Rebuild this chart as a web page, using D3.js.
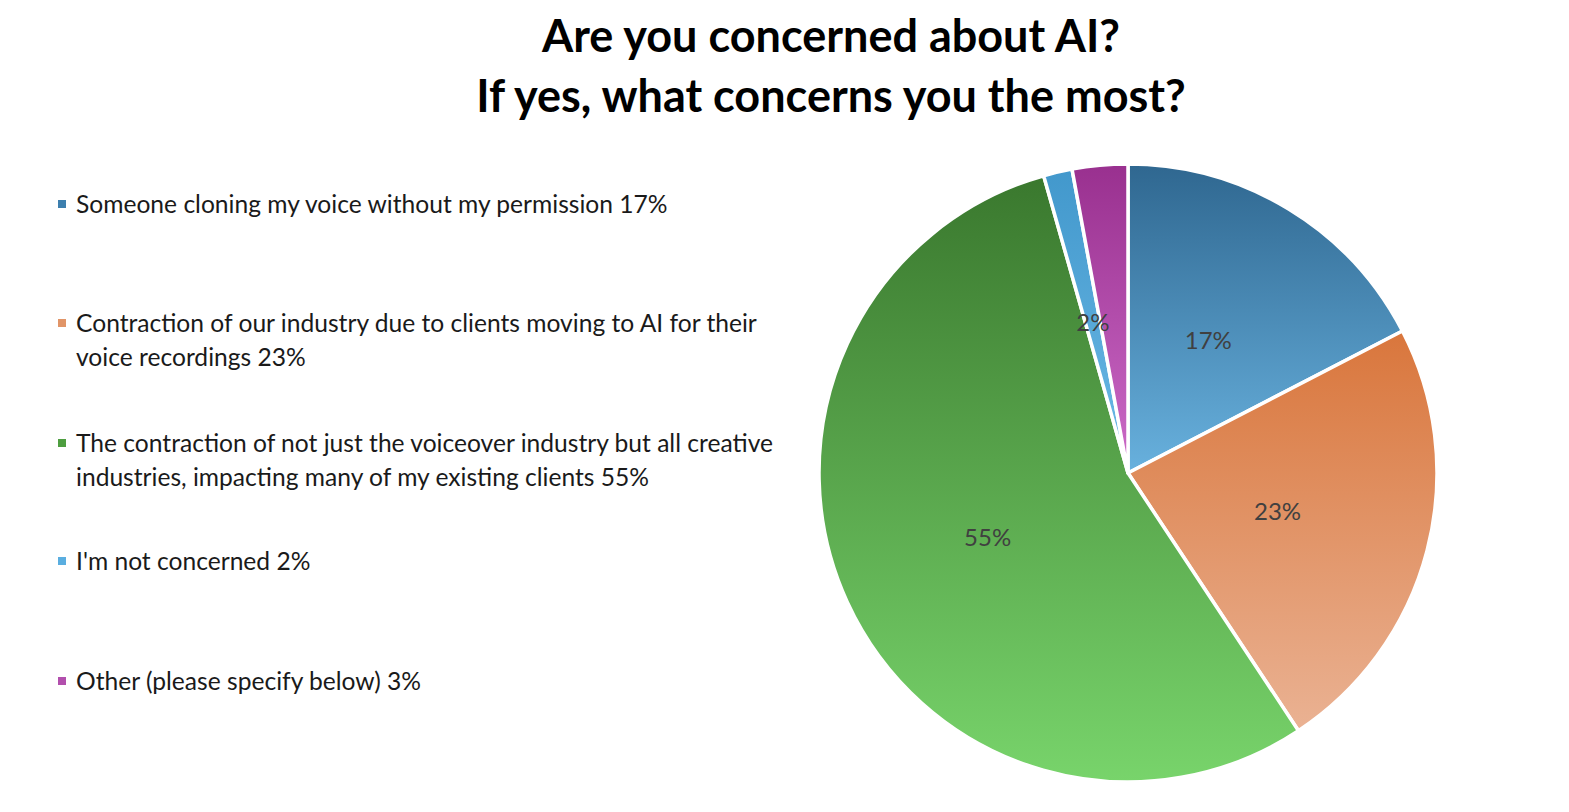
<!DOCTYPE html>
<html>
<head>
<meta charset="utf-8">
<script src="https://cdn.jsdelivr.net/npm/d3@7"></script>
<style>
  body { margin: 0; background: #fff; }
  svg { display: block; font-family: Lato, "Open Sans", sans-serif; }
</style>
</head>
<body>
<script>
// survey answers, in pie order (clockwise from 12 o'clock)
const categories = [
    "Someone cloning my voice without my permission",
    "Contraction of our industry due to clients moving to AI for their\nvoice recordings",
    "The contraction of not just the voiceover industry but all creative\nindustries, impacting many of my existing clients",
    "I'm not concerned",
    "Other (please specify below)"
];
const values = [17.4, 23.3, 54.9, 1.5, 2.9];
const percentLabels = ["17%", "23%", "55%", "2%", "3%"];
const showInPie = [true, true, true, true, false];   // the 3% label is hidden in the original

const topColors = ["#2f6790", "#d9763c", "#3a782e", "#4298cc", "#99308f"];
const bottomColors = ["#68b1de", "#eab293", "#78d46b", "#6cb9e6", "#cc6bc8"];
const legendColors = ["#3d7fae", "#e19568", "#4e9e40", "#5aaee0", "#b24fad"];

const titleLines = ["Are you concerned about AI?", "If yes, what concerns you the most?"];

const width = 1569, height = 812;
const cx = 1128, cy = 473, radius = 309;

const svg = d3.select("body").append("svg")
    .attr("width", width)
    .attr("height", height);

// title
svg.append("g").selectAll("text")
    .data(titleLines)
    .enter().append("text")
    .attr("x", 831)
    .attr("y", function (d, i) { return 52 + i * 60; })
    .attr("text-anchor", "middle")
    .attr("font-size", 45)
    .attr("font-weight", "bold")
    .attr("fill", "#000")
    .text(function (d) { return d; });

// one vertical gradient per slice
const defs = svg.append("defs");
const grads = defs.selectAll("linearGradient")
    .data(values)
    .enter().append("linearGradient")
    .attr("id", function (d, i) { return "grad" + i; })
    .attr("x1", 0).attr("y1", 0).attr("x2", 0).attr("y2", 1);
grads.append("stop").attr("offset", "0%").attr("stop-color", function (d, i) { return topColors[i]; });
grads.append("stop").attr("offset", "100%").attr("stop-color", function (d, i) { return bottomColors[i]; });

const pie = d3.pie().sort(null).value(function (d) { return d; });
const arc = d3.arc().innerRadius(0).outerRadius(radius);
const labelArc = d3.arc().innerRadius(radius * 0.5).outerRadius(radius * 0.5);

const arcs = pie(values);
const g = svg.append("g").attr("transform", "translate(" + cx + "," + cy + ")");

g.selectAll("path")
    .data(arcs)
    .enter().append("path")
    .attr("d", arc)
    .attr("fill", function (d, i) { return "url(#grad" + i + ")"; })
    .attr("stroke", "#fff")
    .attr("stroke-width", 3.5)
    .attr("stroke-linejoin", "round");

g.selectAll("text")
    .data(arcs.filter(function (d, i) { return showInPie[i]; }))
    .enter().append("text")
    .attr("transform", function (d) { return "translate(" + labelArc.centroid(d) + ")"; })
    .attr("text-anchor", "middle")
    .attr("dy", "0.35em")
    .attr("font-size", 24)
    .attr("fill", "#404040")
    .text(function (d) { return percentLabels[d.index]; });

// legend on the left
const legendY = [204, 323, 443, 561, 681];
const lineH = 34;
const legend = svg.append("g").selectAll("g")
    .data(categories)
    .enter().append("g")
    .attr("transform", function (d, i) { return "translate(58," + legendY[i] + ")"; });

legend.append("rect")
    .attr("x", 0).attr("y", -4)
    .attr("width", 8).attr("height", 8)
    .attr("fill", function (d, i) { return legendColors[i]; });

legend.append("text")
    .attr("x", 18)
    .attr("y", 0)
    .attr("font-size", 24.6)
    .attr("fill", "#1a1a1a")
    .each(function (d, i) {
        const lines = (d + " " + percentLabels[i]).split("\n");
        d3.select(this).selectAll("tspan")
            .data(lines)
            .enter().append("tspan")
            .attr("x", 18)
            .attr("y", function (l, j) { return j * lineH; })
            .attr("dy", "0.35em")
            .text(function (l) { return l; });
    });
</script>
</body>
</html>
